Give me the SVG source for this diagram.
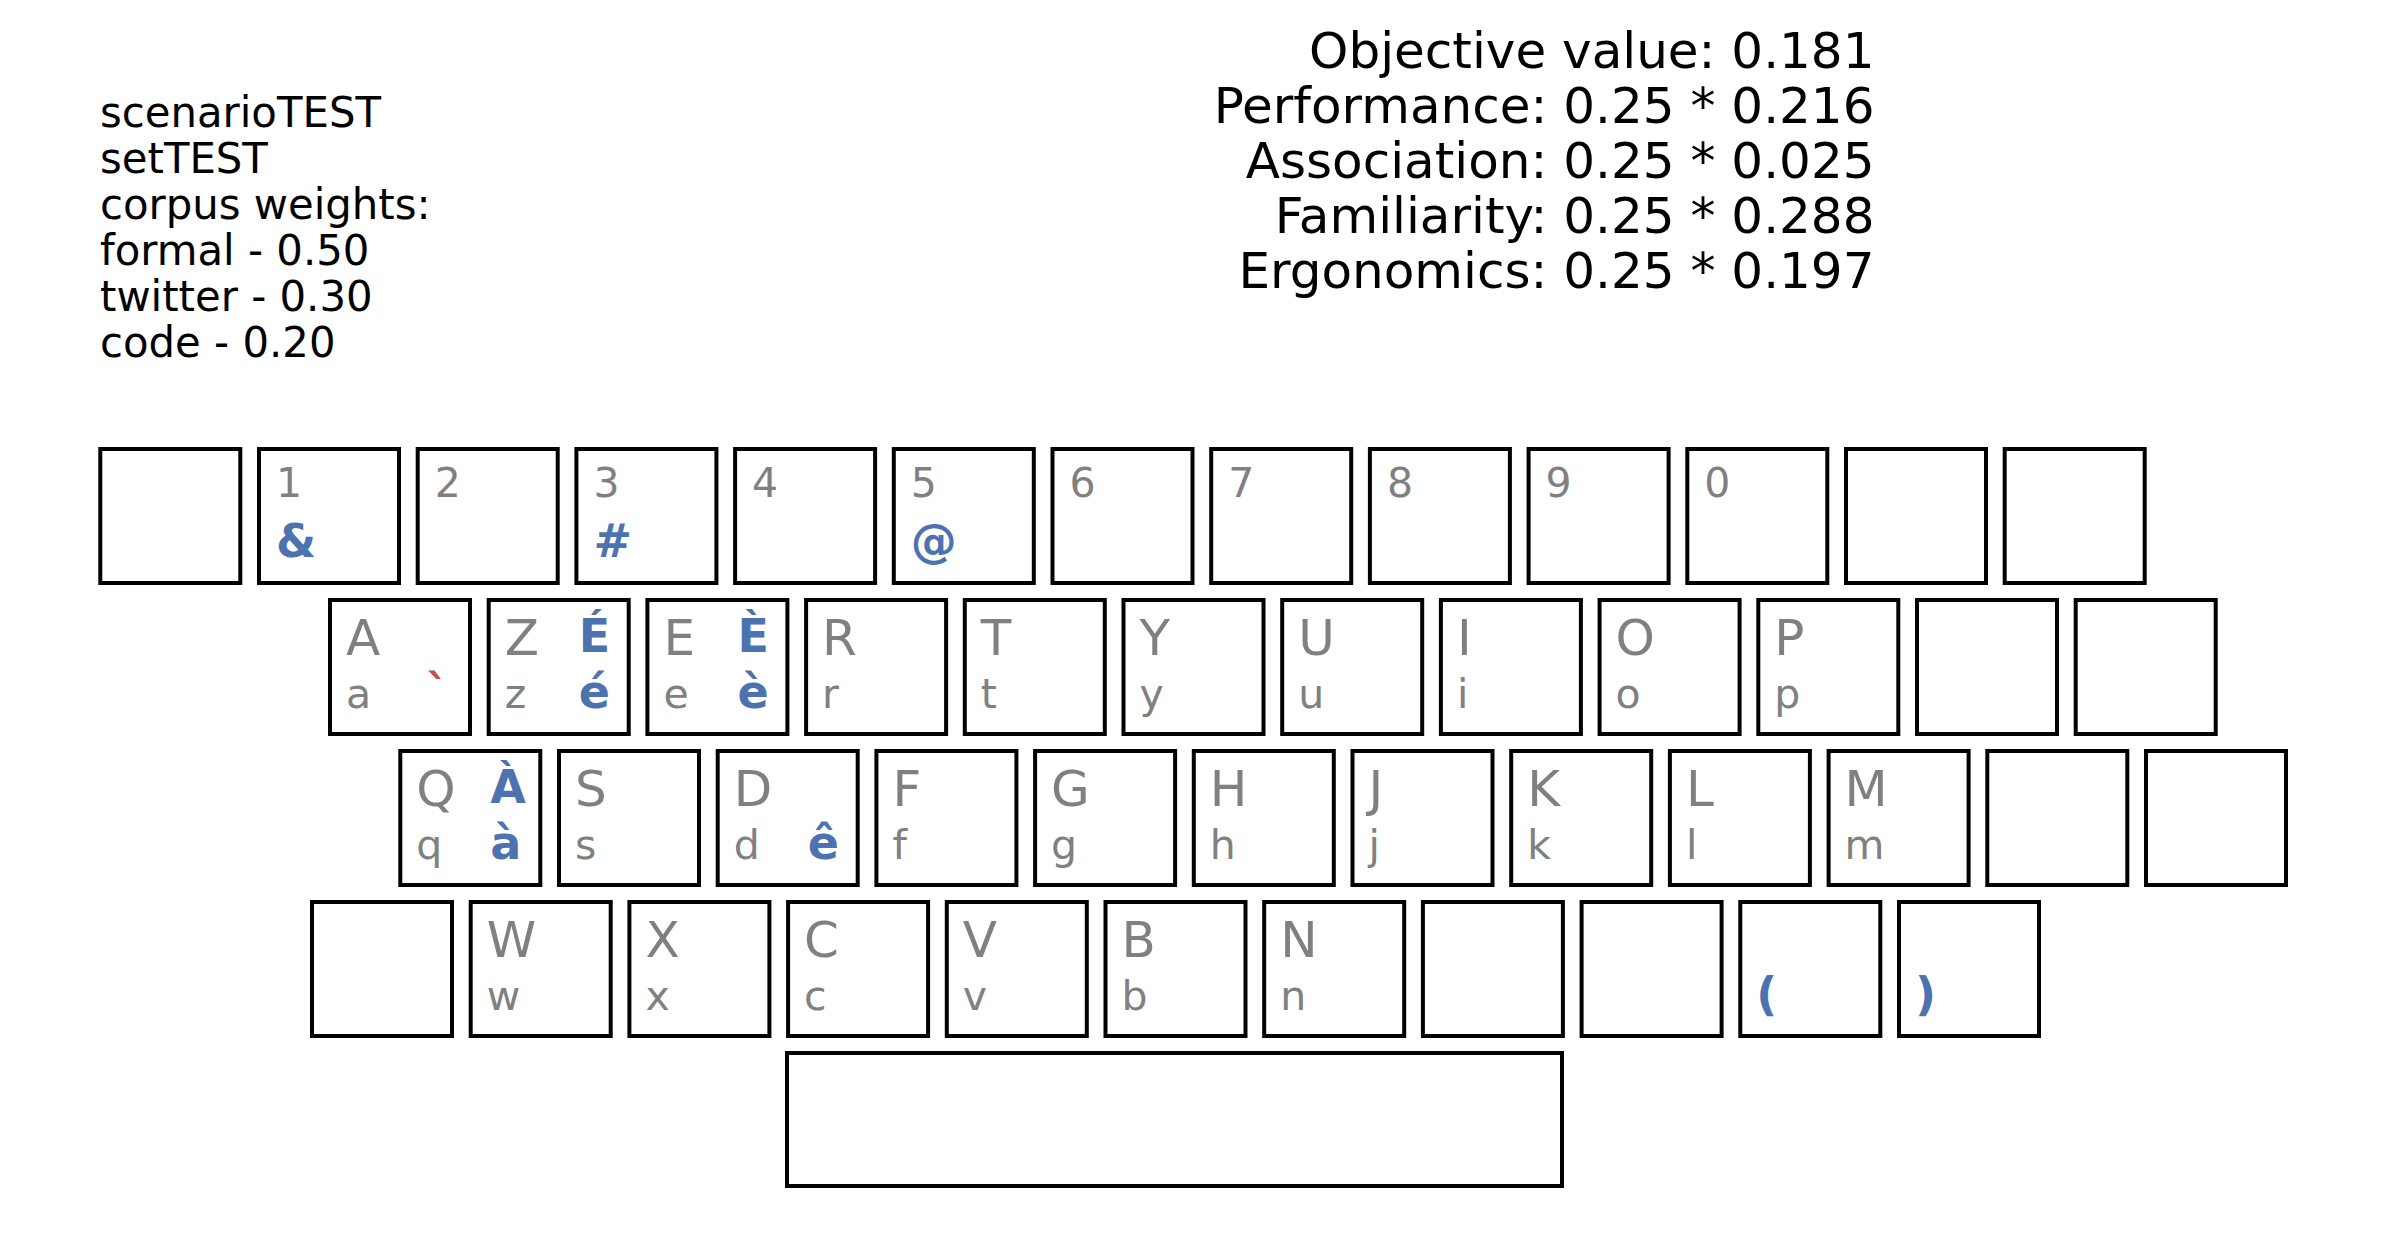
<svg xmlns="http://www.w3.org/2000/svg" width="2385" height="1251" viewBox="0 0 2385 1251">
<style>
text{font-family:"DejaVu Sans","Liberation Sans",sans-serif}
.k{fill:#fff;stroke:#000;stroke-width:4}
.info{font-size:41.8px;fill:#000}
.obj{font-size:50px;fill:#000;text-anchor:end}
.d{font-size:41px;fill:#808080}
.u{font-size:50px;fill:#808080}
.l{font-size:41px;fill:#808080}
.b{font-size:46px;fill:#4c72b0;font-weight:bold}
.r{font-size:46px;fill:#c44e52;font-weight:bold}
</style>
<rect width="2385" height="1251" fill="#fff"/>
<g id="info">
<text class="info" x="100" y="126.5">scenarioTEST</text>
<text class="info" x="100" y="172.6">setTEST</text>
<text class="info" x="100" y="218.7">corpus weights:</text>
<text class="info" x="100" y="264.8">formal - 0.50</text>
<text class="info" x="100" y="310.9">twitter - 0.30</text>
<text class="info" x="100" y="357">code - 0.20</text>
</g>
<g id="objective">
<text class="obj" x="1874.5" y="68">Objective value: 0.181</text>
<text class="obj" x="1874.5" y="123">Performance: 0.25 * 0.216</text>
<text class="obj" x="1874.5" y="178">Association: 0.25 * 0.025</text>
<text class="obj" x="1874.5" y="233">Familiarity: 0.25 * 0.288</text>
<text class="obj" x="1874.5" y="288">Ergonomics: 0.25 * 0.197</text>
</g>
<g id="connectors"></g>
<g id="row1">
<g id="k1_0" transform="translate(100.3,449)"><rect class="k" width="140" height="134"/></g>
<g id="k1_1" transform="translate(259,449)"><rect class="k" width="140" height="134"/><text class="d" x="17" y="48">1</text><text class="b" x="17" y="108">&amp;</text></g>
<g id="k1_2" transform="translate(417.7,449)"><rect class="k" width="140" height="134"/><text class="d" x="17" y="48">2</text></g>
<g id="k1_3" transform="translate(576.4,449)"><rect class="k" width="140" height="134"/><text class="d" x="17" y="48">3</text><text class="b" x="17" y="108">#</text></g>
<g id="k1_4" transform="translate(735.1,449)"><rect class="k" width="140" height="134"/><text class="d" x="17" y="48">4</text></g>
<g id="k1_5" transform="translate(893.8,449)"><rect class="k" width="140" height="134"/><text class="d" x="17" y="48">5</text><text class="b" x="17" y="108">@</text></g>
<g id="k1_6" transform="translate(1052.5,449)"><rect class="k" width="140" height="134"/><text class="d" x="17" y="48">6</text></g>
<g id="k1_7" transform="translate(1211.2,449)"><rect class="k" width="140" height="134"/><text class="d" x="17" y="48">7</text></g>
<g id="k1_8" transform="translate(1369.9,449)"><rect class="k" width="140" height="134"/><text class="d" x="17" y="48">8</text></g>
<g id="k1_9" transform="translate(1528.6,449)"><rect class="k" width="140" height="134"/><text class="d" x="17" y="48">9</text></g>
<g id="k1_10" transform="translate(1687.3,449)"><rect class="k" width="140" height="134"/><text class="d" x="17" y="48">0</text></g>
<g id="k1_11" transform="translate(1846,449)"><rect class="k" width="140" height="134"/></g>
<g id="k1_12" transform="translate(2004.7,449)"><rect class="k" width="140" height="134"/></g>
</g>
<g id="row2">
<g id="k2_a" transform="translate(330,600)"><rect class="k" width="140" height="134"/><text class="u" x="16" y="55">A</text><text class="l" x="16" y="108">a</text><text class="r" x="96" y="108">`</text></g>
<g id="k2_z" transform="translate(488.7,600)"><rect class="k" width="140" height="134"/><text class="u" x="16" y="55">Z</text><text class="l" x="16" y="108">z</text><text class="b" x="90" y="52">É</text><text class="b" x="90" y="108">é</text></g>
<g id="k2_e" transform="translate(647.4,600)"><rect class="k" width="140" height="134"/><text class="u" x="16" y="55">E</text><text class="l" x="16" y="108">e</text><text class="b" x="90" y="52">È</text><text class="b" x="90" y="108">è</text></g>
<g id="k2_r" transform="translate(806.1,600)"><rect class="k" width="140" height="134"/><text class="u" x="16" y="55">R</text><text class="l" x="16" y="108">r</text></g>
<g id="k2_t" transform="translate(964.8,600)"><rect class="k" width="140" height="134"/><text class="u" x="16" y="55">T</text><text class="l" x="16" y="108">t</text></g>
<g id="k2_y" transform="translate(1123.5,600)"><rect class="k" width="140" height="134"/><text class="u" x="16" y="55">Y</text><text class="l" x="16" y="108">y</text></g>
<g id="k2_u" transform="translate(1282.2,600)"><rect class="k" width="140" height="134"/><text class="u" x="16" y="55">U</text><text class="l" x="16" y="108">u</text></g>
<g id="k2_i" transform="translate(1440.9,600)"><rect class="k" width="140" height="134"/><text class="u" x="16" y="55">I</text><text class="l" x="16" y="108">i</text></g>
<g id="k2_o" transform="translate(1599.6,600)"><rect class="k" width="140" height="134"/><text class="u" x="16" y="55">O</text><text class="l" x="16" y="108">o</text></g>
<g id="k2_p" transform="translate(1758.3,600)"><rect class="k" width="140" height="134"/><text class="u" x="16" y="55">P</text><text class="l" x="16" y="108">p</text></g>
<g id="k2_10" transform="translate(1917,600)"><rect class="k" width="140" height="134"/></g>
<g id="k2_11" transform="translate(2075.7,600)"><rect class="k" width="140" height="134"/></g>
</g>
<g id="row3">
<g id="k3_q" transform="translate(400.3,751)"><rect class="k" width="140" height="134"/><text class="u" x="16" y="55">Q</text><text class="l" x="16" y="108">q</text><text class="b" x="90" y="52">À</text><text class="b" x="90" y="108">à</text></g>
<g id="k3_s" transform="translate(559,751)"><rect class="k" width="140" height="134"/><text class="u" x="16" y="55">S</text><text class="l" x="16" y="108">s</text></g>
<g id="k3_d" transform="translate(717.7,751)"><rect class="k" width="140" height="134"/><text class="u" x="16" y="55">D</text><text class="l" x="16" y="108">d</text><text class="b" x="90" y="108">ê</text></g>
<g id="k3_f" transform="translate(876.4,751)"><rect class="k" width="140" height="134"/><text class="u" x="16" y="55">F</text><text class="l" x="16" y="108">f</text></g>
<g id="k3_g" transform="translate(1035.1,751)"><rect class="k" width="140" height="134"/><text class="u" x="16" y="55">G</text><text class="l" x="16" y="108">g</text></g>
<g id="k3_h" transform="translate(1193.8,751)"><rect class="k" width="140" height="134"/><text class="u" x="16" y="55">H</text><text class="l" x="16" y="108">h</text></g>
<g id="k3_j" transform="translate(1352.5,751)"><rect class="k" width="140" height="134"/><text class="u" x="16" y="55">J</text><text class="l" x="16" y="108">j</text></g>
<g id="k3_k" transform="translate(1511.2,751)"><rect class="k" width="140" height="134"/><text class="u" x="16" y="55">K</text><text class="l" x="16" y="108">k</text></g>
<g id="k3_l" transform="translate(1669.9,751)"><rect class="k" width="140" height="134"/><text class="u" x="16" y="55">L</text><text class="l" x="16" y="108">l</text></g>
<g id="k3_m" transform="translate(1828.6,751)"><rect class="k" width="140" height="134"/><text class="u" x="16" y="55">M</text><text class="l" x="16" y="108">m</text></g>
<g id="k3_10" transform="translate(1987.3,751)"><rect class="k" width="140" height="134"/></g>
<g id="k3_11" transform="translate(2146,751)"><rect class="k" width="140" height="134"/></g>
</g>
<g id="row4">
<g id="k4_0" transform="translate(312,902)"><rect class="k" width="140" height="134"/></g>
<g id="k4_w" transform="translate(470.7,902)"><rect class="k" width="140" height="134"/><text class="u" x="16" y="55">W</text><text class="l" x="16" y="108">w</text></g>
<g id="k4_x" transform="translate(629.4,902)"><rect class="k" width="140" height="134"/><text class="u" x="16" y="55">X</text><text class="l" x="16" y="108">x</text></g>
<g id="k4_c" transform="translate(788.1,902)"><rect class="k" width="140" height="134"/><text class="u" x="16" y="55">C</text><text class="l" x="16" y="108">c</text></g>
<g id="k4_v" transform="translate(946.8,902)"><rect class="k" width="140" height="134"/><text class="u" x="16" y="55">V</text><text class="l" x="16" y="108">v</text></g>
<g id="k4_b" transform="translate(1105.5,902)"><rect class="k" width="140" height="134"/><text class="u" x="16" y="55">B</text><text class="l" x="16" y="108">b</text></g>
<g id="k4_n" transform="translate(1264.2,902)"><rect class="k" width="140" height="134"/><text class="u" x="16" y="55">N</text><text class="l" x="16" y="108">n</text></g>
<g id="k4_7" transform="translate(1422.9,902)"><rect class="k" width="140" height="134"/></g>
<g id="k4_8" transform="translate(1581.6,902)"><rect class="k" width="140" height="134"/></g>
<g id="k4_9" transform="translate(1740.3,902)"><rect class="k" width="140" height="134"/><text class="b" x="16" y="108">(</text></g>
<g id="k4_10" transform="translate(1899,902)"><rect class="k" width="140" height="134"/><text class="b" x="16" y="108">)</text></g>
</g>
<g id="space" transform="translate(787,1053)"><rect class="k" width="775" height="133"/></g>
</svg>
